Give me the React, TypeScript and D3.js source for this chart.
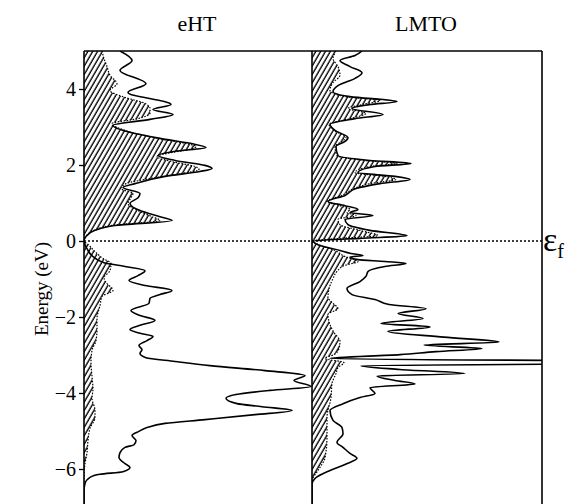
import React, { useEffect, useRef } from 'react'
import * as d3 from 'd3'

// energies in eV, DOS in arbitrary units (states/eV)
const ehtTotalE = [5.0, 4.75, 4.49, 4.14, 3.91, 3.59, 3.46, 3.33, 3.2, 3.04, 2.86, 2.7, 2.57, 2.46, 2.36, 2.25, 2.12, 1.99, 1.91, 1.83, 1.7, 1.51, 1.41, 1.25, 1.14, 0.99, 0.8, 0.64, 0.54, 0.41, 0.28, 0.12, 0.0,
  -0.2, -0.41, -0.57, -0.67, -0.78, -0.91, -1.04, -1.17, -1.3, -1.41, -1.51, -1.64, -1.83, -1.96, -2.09, -2.22, -2.33, -2.43, -2.51, -2.62, -2.75, -2.86, -2.96, -3.07, -3.17, -3.28, -3.41, -3.54, -3.67, -3.83, -3.93, -4.04, -4.14, -4.28, -4.36, -4.46, -4.57, -4.7, -4.8, -4.91, -5.01, -5.12, -5.25, -5.36, -5.43, -5.57, -5.7, -5.86, -5.96, -6.07, -6.14, -6.22, -6.38, -6.57, -7.0]
const ehtTotalDos = [3.6, 4.8, 3.6, 6.2, 4.4, 8.7, 6.9, 8.9, 6.6, 2.9, 4.6, 7.6, 10.6, 12.2, 9.1, 7.4, 9.1, 12.1, 12.8, 11.6, 8.1, 5.1, 3.9, 5.6, 5.4, 4.6, 5.6, 7.6, 8.8, 3.1, 1.1, 0.2, 0,
  0.3, 0.9, 2.0, 4.1, 6.1, 5.4, 4.5, 6.1, 8.8, 7.6, 6.6, 6.5, 4.7, 5.6, 7.1, 5.6, 4.6, 5.6, 6.9, 6.3, 5.5, 5.8, 5.6, 6.2, 9.1, 12.6, 18.1, 22.1, 21.0, 22.7, 18.6, 15.2, 14.2, 15.3, 17.8, 20.8, 17.1, 12.1, 8.1, 6.3, 5.5, 4.8, 5.2, 5.0, 4.1, 3.6, 3.5, 4.1, 4.6, 3.9, 1.6, 0.6, 0.1, 0, 0]

const ehtPartE = [5.0, 4.8, 4.59, 4.36, 4.14, 3.96, 3.78, 3.62, 3.49, 3.36, 3.22, 3.09, 2.91, 2.7, 2.57, 2.49, 2.41, 2.33, 2.22, 2.09, 1.96, 1.88, 1.78, 1.64, 1.51, 1.38, 1.25, 1.14, 0.99, 0.8, 0.64, 0.54, 0.41, 0.28, 0.12, 0.0,
  -0.09, -0.28, -0.46, -0.59, -0.78, -0.96, -1.09, -1.3, -1.46, -1.7, -2.04, -2.33, -2.62, -2.88, -3.2, -3.57, -3.88, -4.14, -4.46, -4.64, -4.93, -5.25, -5.57, -5.86, -6.22, -7.0]
const ehtPartDos = [1.8, 2.0, 2.3, 2.6, 3.3, 2.6, 4.1, 6.1, 6.6, 6.6, 5.4, 2.8, 4.1, 7.4, 10.1, 11.2, 10.6, 8.8, 7.3, 8.8, 11.1, 11.5, 9.8, 6.6, 4.2, 3.7, 4.9, 4.7, 4.4, 5.4, 6.8, 7.6, 2.8, 1.0, 0.2, 0,
  0.4, 1.1, 1.9, 2.7, 2.6, 2.0, 2.2, 2.9, 1.8, 1.6, 1.3, 1.3, 1.2, 0.8, 0.7, 0.8, 0.9, 0.8, 1.1, 1.1, 0.6, 0.4, 0.3, 0.1, 0, 0]

const lmtoTotalE = [5.0, 4.88, 4.75, 4.59, 4.43, 4.28, 4.09, 3.93, 3.8, 3.67, 3.59, 3.49, 3.33, 3.22, 3.07, 2.91, 2.72, 2.62, 2.49, 2.25, 2.12, 2.04, 1.96, 1.8, 1.7, 1.62, 1.51, 1.38, 1.2, 1.04, 0.93, 0.83, 0.75, 0.67, 0.57, 0.43, 0.28, 0.14, 0.07, 0.0,
  -0.12, -0.25, -0.33, -0.38, -0.42, -0.49, -0.54, -0.59, -0.67, -0.8, -0.93, -1.07, -1.25, -1.41, -1.54, -1.67, -1.78, -1.91, -2.04, -2.17, -2.26, -2.38, -2.53, -2.66, -2.74, -2.83, -2.91, -2.99, -3.09, -3.2, -3.28, -3.38, -3.49, -3.55, -3.67, -3.76, -3.86, -4.01, -4.12, -4.28, -4.46, -4.72, -4.91, -5.07, -5.3, -5.43, -5.59, -5.72, -5.88, -6.04, -6.25, -6.41, -7.0]
const lmtoTotalDos = [5.0, 4.3, 2.8, 3.8, 5.0, 4.3, 2.6, 2.1, 3.8, 8.5, 5.8, 4.0, 7.1, 4.3, 1.8, 2.3, 3.6, 3.3, 2.4, 2.6, 5.8, 9.9, 6.3, 4.6, 8.3, 9.8, 6.8, 4.4, 3.3, 1.6, 3.3, 4.6, 3.8, 6.1, 3.3, 3.6, 5.8, 9.5, 4.8, 0.1,
  0.8, 2.8, 3.9, 5.1, 3.8, 4.6, 7.3, 9.4, 7.3, 5.6, 5.4, 4.8, 3.5, 4.0, 6.3, 7.7, 11.4, 8.6, 11.1, 6.9, 11.8, 7.6, 13.2, 18.7, 11.2, 17.0, 12.4, 8.8, 1.8, 50, 4.9, 8.8, 15.3, 6.5, 8.3, 10.3, 5.8, 6.3, 4.8, 3.1, 1.8, 2.1, 3.0, 3.1, 2.5, 3.1, 3.8, 4.5, 3.3, 1.8, 0.3, 0, 0]

const lmtoPartE = [5.0, 4.8, 4.59, 4.36, 4.17, 3.96, 3.8, 3.7, 3.59, 3.49, 3.36, 3.22, 3.07, 2.91, 2.72, 2.62, 2.49, 2.25, 2.12, 2.04, 1.96, 1.8, 1.7, 1.62, 1.51, 1.38, 1.2, 1.04, 0.93, 0.83, 0.75, 0.67, 0.57, 0.43, 0.28, 0.14, 0.07, 0.0,
  -0.09, -0.25, -0.41, -0.54, -0.64, -0.8, -0.99, -1.17, -1.49, -1.64, -1.78, -1.93, -2.2, -2.41, -2.64, -2.83, -2.99, -3.09, -3.2, -3.33, -3.49, -3.75, -4.12, -4.64, -5.17, -5.7, -6.04, -6.25, -6.57, -7.0]
const lmtoPartDos = [2.4, 2.1, 2.6, 2.8, 2.1, 1.8, 3.3, 6.8, 5.0, 3.6, 5.4, 3.8, 1.7, 2.2, 3.4, 3.0, 2.3, 2.5, 5.3, 8.5, 5.8, 4.3, 7.3, 8.4, 5.8, 4.2, 3.0, 1.5, 2.8, 3.8, 3.5, 4.4, 2.6, 2.8, 4.8, 6.6, 2.8, 0.1,
  0.6, 2.3, 3.3, 4.6, 3.3, 2.5, 2.1, 1.8, 1.6, 2.1, 2.6, 1.6, 1.8, 2.2, 2.8, 2.7, 2.2, 1.3, 3.2, 2.6, 2.4, 2.0, 1.9, 1.5, 1.5, 1.3, 0.6, 0.1, 0, 0]

const panelTitles = ['eHT', 'LMTO']
const energyTicks = [-6, -4, -2, 0, 2, 4]

const zip = (es: number[], vs: number[]) => es.map((e, i) => ({ e, v: vs[i] }))

export default function App() {
  const ref = useRef<SVGSVGElement>(null)

  useEffect(() => {
    const svg = d3.select(ref.current)
    svg.selectAll('*').remove()

    const top = 51
    const bottom = 507
    const serif = "'Liberation Serif', 'Times New Roman', serif"

    const y = d3.scaleLinear().domain([-7, 5]).range([bottom, top])

    const panels = [
      { x0: 84, x1: 312, total: zip(ehtTotalE, ehtTotalDos), part: zip(ehtPartE, ehtPartDos) },
      { x0: 312, x1: 542, total: zip(lmtoTotalE, lmtoTotalDos), part: zip(lmtoPartE, lmtoPartDos) },
    ]

    const defs = svg.append('defs')
    defs.append('pattern')
      .attr('id', 'hatch')
      .attr('patternUnits', 'userSpaceOnUse')
      .attr('width', 4.2)
      .attr('height', 10)
      .attr('patternTransform', 'rotate(30)')
      .append('line')
      .attr('x1', 1).attr('y1', 0).attr('x2', 1).attr('y2', 10)
      .attr('stroke', '#000').attr('stroke-width', 1.35)

    panels.forEach((p, i) => {
      const x = d3.scaleLinear().domain([0, (p.x1 - p.x0) / 10]).range([p.x0, p.x1])

      defs.append('clipPath').attr('id', `clip${i}`)
        .append('rect').attr('x', p.x0).attr('y', top).attr('width', p.x1 - p.x0).attr('height', bottom - top)

      const g = svg.append('g').attr('clip-path', `url(#clip${i})`)

      const area = d3.area<{ e: number; v: number }>()
        .y(d => y(d.e)).x0(x(0)).x1(d => x(d.v))
        .curve(d3.curveMonotoneY)
      const line = d3.line<{ e: number; v: number }>()
        .y(d => y(d.e)).x(d => x(d.v))
        .curve(d3.curveMonotoneY)

      g.append('path').attr('d', area(p.part)).attr('fill', 'url(#hatch)')
      g.append('path').attr('d', line(p.part))
        .attr('fill', 'none').attr('stroke', '#000').attr('stroke-width', 1.2)
        .attr('stroke-dasharray', '1.5 1.5')
      g.append('path').attr('d', line(p.total))
        .attr('fill', 'none').attr('stroke', '#000').attr('stroke-width', 1.6)

      svg.append('text')
        .attr('x', (p.x0 + p.x1) / 2 - 1)
        .attr('y', 31)
        .attr('text-anchor', 'middle')
        .attr('font-family', serif)
        .attr('font-size', 22)
        .text(panelTitles[i])
    })

    // frame
    const frame = svg.append('g').attr('stroke', '#000').attr('stroke-width', 1.6)
    frame.append('line').attr('x1', 84).attr('x2', 542).attr('y1', top).attr('y2', top)
    ;[84, 312, 542].forEach(xv => {
      frame.append('line').attr('x1', xv).attr('x2', xv).attr('y1', top).attr('y2', bottom)
    })

    // Fermi level
    svg.append('line')
      .attr('x1', 84).attr('x2', 542).attr('y1', y(0)).attr('y2', y(0))
      .attr('stroke', '#000').attr('stroke-width', 1.4).attr('stroke-dasharray', '2 2')

    const ef = svg.append('text')
      .attr('x', 543).attr('y', y(0) + 10)
      .attr('font-family', serif)
      .attr('font-size', 34)
    ef.append('tspan').text('ε')
    ef.append('tspan').attr('font-size', 20).attr('dy', 7).text('f')

    // energy axis
    const axis = svg.append('g')
      .attr('transform', 'translate(84,0)')
      .call(d3.axisLeft(y).tickValues(energyTicks).tickSize(5).tickPadding(3))
    axis.attr('font-family', serif).attr('font-size', 20)
    axis.select('.domain').remove()
    axis.selectAll('line').attr('stroke-width', 1.3)
    axis.selectAll('text').attr('fill', '#000')

    svg.append('text')
      .attr('transform', `translate(48,289) rotate(-90)`)
      .attr('text-anchor', 'middle')
      .attr('font-family', serif)
      .attr('font-size', 19)
      .text('Energy (eV)')
  }, [])

  return (
    <svg ref={ref} width={566} height={504}
      style={{ position: 'absolute', left: 0, top: 0, background: '#fff' }} />
  )
}
